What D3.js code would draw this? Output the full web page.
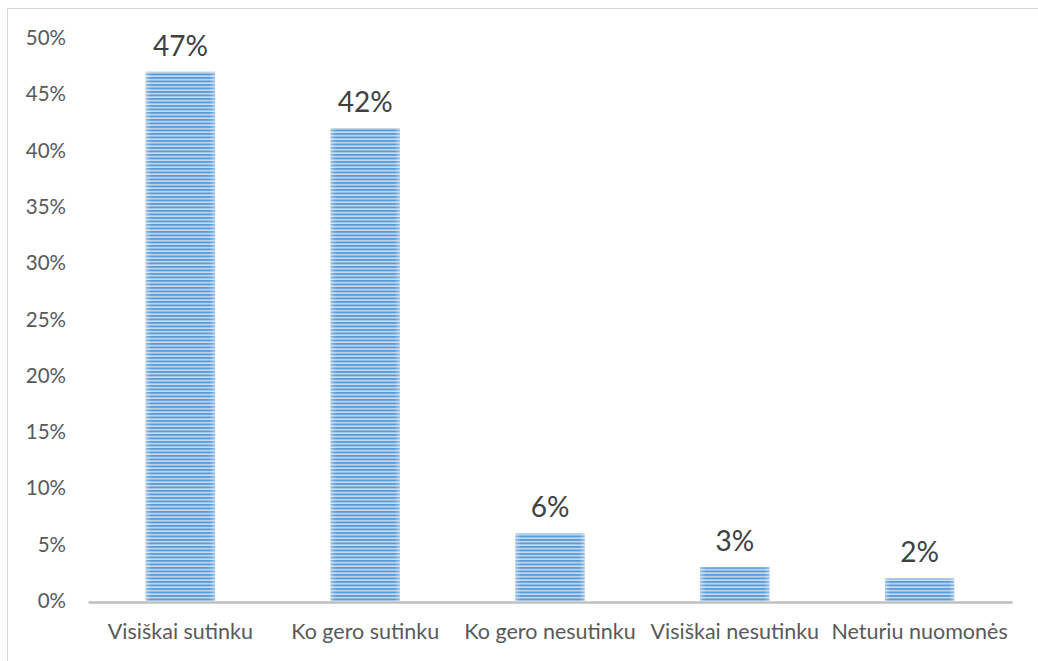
<!DOCTYPE html>
<html>
<head>
<meta charset="utf-8">
<script src="https://cdn.jsdelivr.net/npm/d3@7"></script>
<style>
  body { margin: 0; background: #fff; }
  svg { display: block; }
</style>
</head>
<body>
<script>
// chart data
var categories = ["Visiškai sutinku", "Ko gero sutinku", "Ko gero nesutinku", "Visiškai nesutinku", "Neturiu nuomonės"];
var values = [47, 42, 6, 3, 2];
var yTicks = [0, 5, 10, 15, 20, 25, 30, 35, 40, 45, 50];

var w = 1038;
var h = 661;
var plotLeft = 88, plotRight = 1012, plotTop = 38, plotBottom = 601;
var font = "Lato, 'Open Sans', sans-serif";

var svg = d3.select("body")
    .append("svg")
    .attr("width", w)
    .attr("height", h);

// stripe pattern for the bars
var defs = svg.append("defs");
var pat = defs.append("pattern")
    .attr("id", "stripes")
    .attr("patternUnits", "userSpaceOnUse")
    .attr("width", 8)
    .attr("height", 3.5);
pat.append("rect").attr("width", 8).attr("height", 3.5).attr("fill", "#c5dcf1");
pat.append("rect").attr("width", 8).attr("height", 1.9).attr("fill", "#5b9bd5");

var edge = defs.append("linearGradient").attr("id", "edge");
edge.append("stop").attr("offset", "0%").attr("stop-color", "#fff").attr("stop-opacity", 0.35);
edge.append("stop").attr("offset", "8%").attr("stop-color", "#fff").attr("stop-opacity", 0);
edge.append("stop").attr("offset", "92%").attr("stop-color", "#fff").attr("stop-opacity", 0);
edge.append("stop").attr("offset", "100%").attr("stop-color", "#fff").attr("stop-opacity", 0.35);

// outer frame
svg.append("rect")
    .attr("x", 7.5).attr("y", 8.5)
    .attr("width", w + 20).attr("height", h + 20)
    .attr("fill", "none")
    .attr("stroke", "#d9d9d9")
    .attr("stroke-width", 1);

var x = d3.scaleBand()
    .domain(categories)
    .range([plotLeft, plotRight])
    .padding(0);

var y = d3.scaleLinear()
    .domain([0, 50])
    .range([plotBottom, plotTop]);

var barW = x.bandwidth() * 0.375;

// y axis labels (no line)
var yAxis = d3.axisLeft(y)
    .tickValues(yTicks)
    .tickSize(0)
    .tickPadding(0)
    .tickFormat(function(d) { return d + "%"; });

var gY = svg.append("g")
    .attr("transform", "translate(66,0)")
    .call(yAxis);
gY.select(".domain").remove();
gY.selectAll("text")
    .attr("fill", "#595959")
    .style("font-family", font)
    .style("font-size", "20.5px");

// bars
var bars = svg.selectAll(".bar")
    .data(values)
    .enter();

bars.append("rect")
    .attr("x", function(d, i) { return x(categories[i]) + (x.bandwidth() - barW) / 2; })
    .attr("y", function(d) { return y(d); })
    .attr("width", barW)
    .attr("height", function(d) { return y(0) - y(d); })
    .attr("fill", "url(#stripes)");

bars.append("rect")
    .attr("x", function(d, i) { return x(categories[i]) + (x.bandwidth() - barW) / 2; })
    .attr("y", function(d) { return y(d); })
    .attr("width", barW)
    .attr("height", function(d) { return y(0) - y(d); })
    .attr("fill", "url(#edge)");

// value labels
bars.append("text")
    .attr("x", function(d, i) { return x(categories[i]) + x.bandwidth() / 2; })
    .attr("y", function(d) { return y(d) - 16; })
    .attr("text-anchor", "middle")
    .attr("fill", "#404040")
    .style("font-family", font)
    .style("font-size", "28px")
    .text(function(d) { return d + "%"; });

// x axis
var xAxis = d3.axisBottom(x)
    .tickSize(0)
    .tickPadding(22);

var gX = svg.append("g")
    .attr("transform", "translate(0," + (plotBottom + 1) + ")")
    .call(xAxis);
gX.select(".domain")
    .attr("stroke", "#bfbfbf")
    .attr("stroke-width", 2.5);
gX.selectAll("text")
    .attr("fill", "#595959")
    .style("font-family", font)
    .style("font-size", "21.5px");
</script>
</body>
</html>
